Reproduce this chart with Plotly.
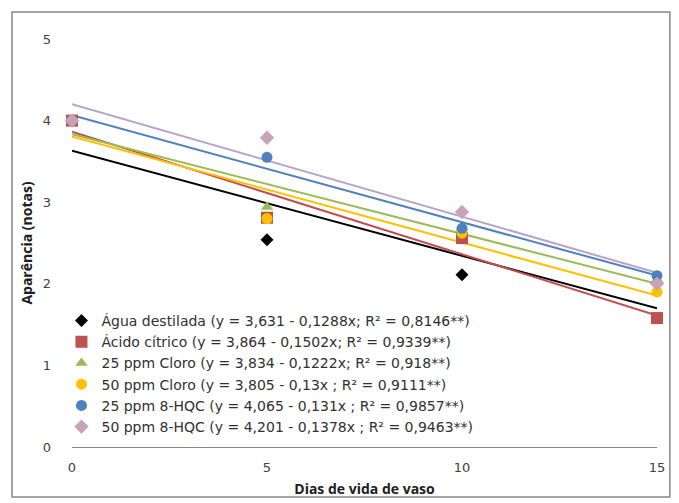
import plotly.graph_objects as go

days = [0, 5, 10, 15]
series_names = [
    "Água destilada (y = 3,631 - 0,1288x; R² = 0,8146**)",
    "Ácido cítrico (y = 3,864 - 0,1502x; R² = 0,9339**)",
    "25 ppm Cloro (y = 3,834 - 0,1222x; R² = 0,918**)",
    "50 ppm Cloro (y = 3,805 - 0,13x ; R² = 0,9111**)",
    "25 ppm 8-HQC (y = 4,065 - 0,131x ; R² = 0,9857**)",
    "50 ppm 8-HQC (y = 4,201 - 0,1378x ; R² = 0,9463**)",
]
agua = [4, 2.54, 2.11, 2.01]
acido = [4, 2.81, 2.56, 1.58]
cloro25 = [4, 2.94, 2.68, 2.05]
cloro50 = [4, 2.80, 2.62, 1.90]
hqc25 = [4, 3.55, 2.68, 2.10]
hqc50 = [4, 3.79, 2.88, 2.00]
intercepts = [3.631, 3.864, 3.834, 3.805, 4.065, 4.201]
slopes = [-0.1288, -0.1502, -0.1222, -0.13, -0.131, -0.1378]

values = [agua, acido, cloro25, cloro50, hqc25, hqc50]
marker_colors = ["#000000", "#C0504D", "#9BBB59", "#FFC000", "#4F81BD", "#C6A3B8"]
line_colors = ["#000000", "#C0504D", "#9BBB59", "#FFC000", "#4F81BD", "#B9A3C9"]
symbols = ["diamond", "square", "triangle-up", "circle", "circle", "diamond"]
sizes = [10, 12, 11, 11, 11, 11]

fig = go.Figure()
for i in range(6):
    xs = [days[0], days[-1]]
    ys = [intercepts[i] + slopes[i] * x for x in xs]
    fig.add_trace(go.Scatter(x=xs, y=ys, mode="lines", showlegend=False,
                             line=dict(color=line_colors[i], width=2), hoverinfo="skip"))
for i in range(6):
    fig.add_trace(go.Scatter(x=days, y=values[i], mode="markers", name=series_names[i],
                             marker=dict(color=marker_colors[i], symbol=symbols[i], size=sizes[i]),
                             cliponaxis=False))

fig.update_layout(
    width=679, height=503,
    margin=dict(l=72, r=22, t=39, b=56, autoexpand=False),
    paper_bgcolor="white", plot_bgcolor="white",
    font=dict(family="DejaVu Sans", size=13, color="#404040"),
    showlegend=True,
    legend=dict(x=-0.018, y=0.348, xanchor="left", yanchor="top",
                bgcolor="rgba(255,255,255,0)",
                font=dict(family="DejaVu Sans", size=14, color="#303030"),
                tracegroupgap=0, itemwidth=30),
    xaxis=dict(range=[0, 15], tickvals=[0, 5, 10, 15], showgrid=False, zeroline=False,
               showline=True, linecolor="#888888", linewidth=1, ticks="",
               automargin=False,
               ticklabelstandoff=8, tickfont=dict(size=13, color="#404040"),
               title=dict(text="<b>Dias de vida de vaso</b>", standoff=10,
                          font=dict(family="Open Sans", size=14, color="#202020"))),
    yaxis=dict(range=[0, 5], tickvals=[0, 1, 2, 3, 4, 5], showgrid=False, zeroline=False,
               showline=False, ticks="", ticklabelstandoff=20, automargin=False,
               tickfont=dict(size=13, color="#404040"),
               title=dict(text="<b>Aparência (notas)</b>", standoff=6,
                          font=dict(family="Open Sans", size=14, color="#202020"))),
    shapes=[dict(type="rect", xref="paper", yref="paper",
                 x0=-0.1026, x1=1.022, y0=-0.1225, y1=1.066,
                 line=dict(color="#888888", width=1.5), fillcolor="rgba(0,0,0,0)")],
)

fig.write_html("out.html", config={"displayModeBar": False},
               post_script="document.body.style.margin='0';document.body.style.overflow='hidden';")
